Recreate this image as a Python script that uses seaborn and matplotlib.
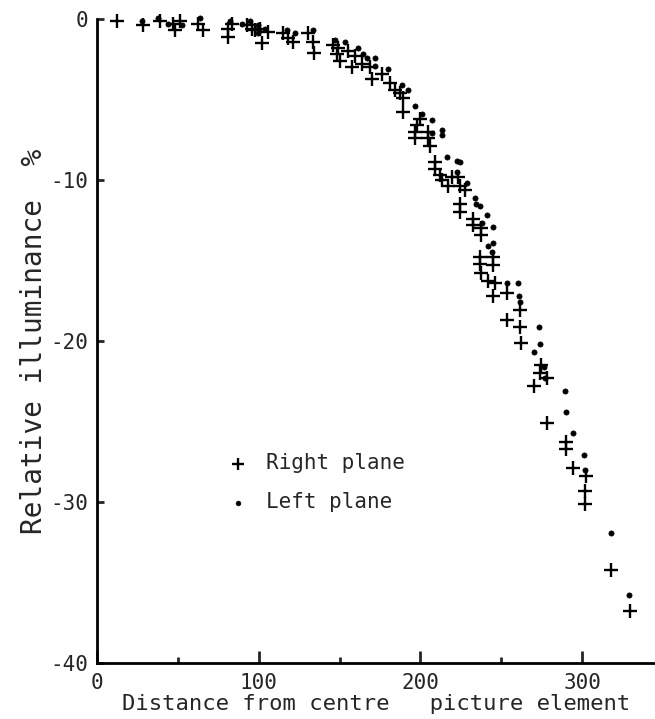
import matplotlib
matplotlib.use("Agg")
import matplotlib.pyplot as plt
import seaborn as sns

# ---- data ----
right_x = [12.2, 28.6, 39.0, 47.2, 51.3, 48.2, 62.6, 65.7, 81.2, 81.2, 83.3, 92.6, 95.7, 97.7,
           101.8, 100.8, 106.0, 115.2, 118.3, 121.4, 130.7, 133.8, 134.4, 146.1, 149.2, 148.2,
           150.3, 155.4, 159.6, 157.5, 163.7, 168.8, 169.9, 176.0, 181.2, 184.3, 187.4, 189.4,
           189.4, 199.8, 197.7, 196.7, 196.7, 204.9, 204.9, 206.0, 209.0, 209.0, 212.0, 213.1,
           217.3, 219.3, 223.4, 224.5, 227.6, 224.3, 224.3, 232.7, 232.7, 237.3, 237.3, 236.9,
           236.9, 245.0, 245.0, 237.3, 242.0, 246.0, 245.0, 253.4, 261.6, 253.7, 261.6, 262.0,
           274.3, 274.0, 278.0, 270.0, 278.0, 290.0, 290.0, 294.6, 302.2, 301.8, 301.8, 317.6,
           329.6]
right_y = [-0.1, -0.4, -0.1, -0.3, -0.1, -0.7, -0.3, -0.7, -0.6, -1.1, -0.3, -0.4, -0.6, -0.7,
           -1.5, -0.6, -0.8, -0.9, -1.2, -1.4, -0.9, -1.4, -2.1, -1.6, -1.8, -2.2,
           -2.6, -2.0, -2.3, -3.0, -2.8, -3.0, -3.7, -3.4, -4.0, -4.4, -4.6, -4.9,
           -5.8, -6.2, -6.6, -7.0, -7.4, -7.0, -7.4, -7.9, -8.9, -9.3, -9.7, -10.0,
           -10.4, -9.8, -9.8, -10.4, -10.6, -11.5, -12.0, -12.4, -12.8, -13.0, -13.4, -14.8,
           -15.2, -14.8, -15.3, -15.8, -16.3, -16.4, -17.2, -17.0, -18.1, -18.7, -19.1, -20.1,
           -21.5, -22.0, -22.3, -22.8, -25.1, -26.3, -26.7, -27.9, -28.4, -29.3, -30.1, -34.2,
           -36.8]

left_x = [27.6, 37.9, 44.1, 52.4, 63.7, 82.2, 89.5, 94.6, 99.7, 104.0, 99.7, 117.3, 122.4,
          133.8, 147.2, 153.4, 161.6, 164.7, 166.8, 171.9, 171.9, 180.2, 188.4, 192.5, 196.7,
          200.8, 207.0, 207.0, 213.0, 213.0, 216.2, 222.8, 224.5, 222.4, 228.6, 233.8, 234.4,
          236.9, 241.0, 237.9, 245.0, 242.0, 245.0, 244.0, 253.4, 260.0, 261.0, 261.6, 273.5,
          274.0, 270.0, 276.4, 277.0, 289.4, 290.0, 294.0, 301.4, 301.8, 317.6, 329.2]
left_y = [-0.1, 0.05, -0.3, -0.4, 0.05, -0.1, -0.3, -0.1, -0.4, -0.6, -0.9, -0.7, -0.9,
          -0.7, -1.3, -1.4, -1.8, -2.2, -2.4, -2.4, -2.9, -3.1, -4.1, -4.4, -5.4,
          -5.9, -6.3, -7.1, -6.9, -7.2, -8.6, -8.8, -8.9, -9.5, -10.2, -11.1, -11.5,
          -11.6, -12.2, -12.7, -12.9, -14.1, -13.9, -14.5, -16.4, -16.4, -17.2, -17.6, -19.1,
          -20.2, -20.7, -21.6, -22.3, -23.1, -24.4, -25.7, -27.1, -28.0, -31.9, -35.8]

x_ticks = [0, 100, 200, 300]
y_ticks = [-40, -30, -20, -10, 0]
x_label = "Distance from centre   picture element"
y_label = "Relative illuminance  %"
legend_labels = ["Right plane", "Left plane"]

# ---- style ----
sns.set_style("ticks")
plt.rcParams["font.family"] = ["DejaVu Sans Mono", "DejaVu Sans"]

fig = plt.figure(figsize=(6.55, 7.19), dpi=100)
ax = fig.add_axes([97 / 655, 1 - 663 / 719, (655 - 97) / 655, (663 - 19) / 719])

sns.scatterplot(x=right_x, y=right_y, marker="+", s=100, color="black", linewidth=1.7,
                label=legend_labels[0], ax=ax, clip_on=False, zorder=3)
sns.scatterplot(x=left_x, y=left_y, marker="o", s=14, color="black", edgecolor="black",
                linewidth=0.5, label=legend_labels[1], ax=ax, clip_on=False, zorder=3)

ax.set_xlim(0, 345)
ax.set_ylim(-40, 0)
ax.set_xticks(x_ticks)
ax.set_yticks(y_ticks)
ax.set_xticks([50, 150, 250], minor=True)
ax.set_yticklabels([str(v) for v in y_ticks])

for side in ["top", "right"]:
    ax.spines[side].set_visible(False)
for side in ["left", "bottom"]:
    ax.spines[side].set_linewidth(2.0)
    ax.spines[side].set_color("black")

ax.tick_params(axis="x", which="major", direction="in", length=9, width=2, labelsize=15, pad=7)
ax.tick_params(axis="x", which="minor", direction="in", length=4, width=2)
ax.tick_params(axis="y", which="major", direction="in", length=5, width=2, labelsize=15, pad=6)

ax.set_xlabel(x_label, fontsize=16, labelpad=1)
ax.set_ylabel(y_label, fontsize=20, labelpad=2)

leg = ax.legend(loc="center left", bbox_to_anchor=(0.2, 0.28), frameon=False, fontsize=15,
                handletextpad=0.35, labelspacing=0.9, markerscale=0.9, borderaxespad=0)

fig.savefig("out.png", dpi=100, facecolor="white")
